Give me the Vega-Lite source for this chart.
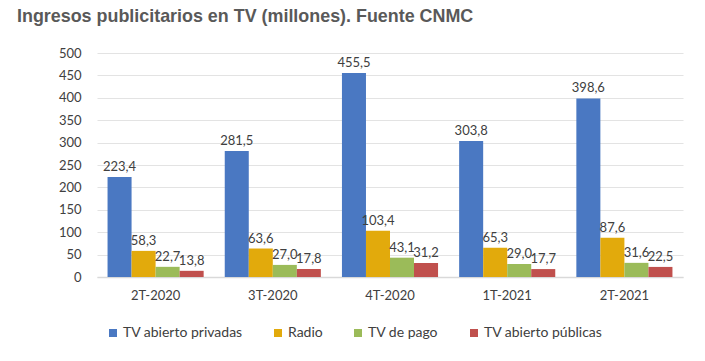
{
  "$schema": "https://vega.github.io/schema/vega-lite/v6.json",
  "width": 586,
  "height": 224,
  "autosize": {"type": "none"},
  "padding": {"left": 97, "top": 53, "right": 22, "bottom": 84},
  "background": "white",
  "title": {
    "text": "Ingresos publicitarios en TV (millones). Fuente CNMC",
    "anchor": "start",
    "frame": "group",
    "dx": -80,
    "offset": 7,
    "baseline": "alphabetic",
    "font": "Liberation Sans",
    "fontSize": 17.9,
    "fontWeight": "bold",
    "color": "#595959"
  },
  "config": {
    "locale": {"number": {"decimal": ",", "thousands": ".", "grouping": [3], "currency": ["", " €"]}},
    "view": {"stroke": null},
    "font": "Lato"
  },
  "data": {
    "values": [
      {"periodo": "2T-2020", "serie": "TV abierto privadas", "valor": 223.4},
      {"periodo": "2T-2020", "serie": "Radio", "valor": 58.3},
      {"periodo": "2T-2020", "serie": "TV de pago", "valor": 22.7},
      {"periodo": "2T-2020", "serie": "TV abierto públicas", "valor": 13.8},
      {"periodo": "3T-2020", "serie": "TV abierto privadas", "valor": 281.5},
      {"periodo": "3T-2020", "serie": "Radio", "valor": 63.6},
      {"periodo": "3T-2020", "serie": "TV de pago", "valor": 27.0},
      {"periodo": "3T-2020", "serie": "TV abierto públicas", "valor": 17.8},
      {"periodo": "4T-2020", "serie": "TV abierto privadas", "valor": 455.5},
      {"periodo": "4T-2020", "serie": "Radio", "valor": 103.4},
      {"periodo": "4T-2020", "serie": "TV de pago", "valor": 43.1},
      {"periodo": "4T-2020", "serie": "TV abierto públicas", "valor": 31.2},
      {"periodo": "1T-2021", "serie": "TV abierto privadas", "valor": 303.8},
      {"periodo": "1T-2021", "serie": "Radio", "valor": 65.3},
      {"periodo": "1T-2021", "serie": "TV de pago", "valor": 29.0},
      {"periodo": "1T-2021", "serie": "TV abierto públicas", "valor": 17.7},
      {"periodo": "2T-2021", "serie": "TV abierto privadas", "valor": 398.6},
      {"periodo": "2T-2021", "serie": "Radio", "valor": 87.6},
      {"periodo": "2T-2021", "serie": "TV de pago", "valor": 31.6},
      {"periodo": "2T-2021", "serie": "TV abierto públicas", "valor": 22.5}
    ]
  },
  "encoding": {
    "x": {
      "field": "periodo",
      "type": "nominal",
      "sort": ["2T-2020", "3T-2020", "4T-2020", "1T-2021", "2T-2021"],
      "scale": {"paddingInner": 0.18, "paddingOuter": 0.09},
      "axis": {
        "title": null,
        "labelAngle": 0,
        "ticks": false,
        "domainColor": "#d9d9d9",
        "domainWidth": 1.5,
        "labelFontSize": 13,
        "labelColor": "#404040",
        "labelPadding": 12
      }
    },
    "xOffset": {
      "field": "serie",
      "type": "nominal",
      "sort": ["TV abierto privadas", "Radio", "TV de pago", "TV abierto públicas"],
      "scale": {"paddingInner": 0, "paddingOuter": 0}
    },
    "y": {
      "field": "valor",
      "type": "quantitative",
      "scale": {"domain": [0, 500], "nice": false},
      "axis": {
        "title": null,
        "values": [0, 50, 100, 150, 200, 250, 300, 350, 400, 450, 500],
        "domain": false,
        "ticks": false,
        "gridColor": "#e3e3e3",
        "labelFontSize": 13,
        "labelColor": "#404040",
        "labelPadding": 16
      }
    }
  },
  "layer": [
    {
      "mark": {"type": "bar"},
      "encoding": {
        "color": {
          "field": "serie",
          "type": "nominal",
          "scale": {
            "domain": ["TV abierto privadas", "Radio", "TV de pago", "TV abierto públicas"],
            "range": ["#4a78c2", "#e2aa0c", "#9bbb59", "#c0504d"]
          },
          "legend": {
            "title": null,
            "orient": "none",
            "direction": "horizontal",
            "legendX": 9,
            "legendY": 273,
            "symbolType": "square",
            "symbolSize": 64,
            "symbolStrokeWidth": 0,
            "labelFontSize": 14,
            "labelColor": "#404040",
            "columnPadding": 28,
            "labelOffset": 3
          }
        }
      }
    },
    {
      "mark": {"type": "text", "dy": -10, "fontSize": 13, "color": "#404040"},
      "encoding": {
        "text": {"field": "valor", "type": "quantitative", "format": ".1f"}
      }
    }
  ]
}
